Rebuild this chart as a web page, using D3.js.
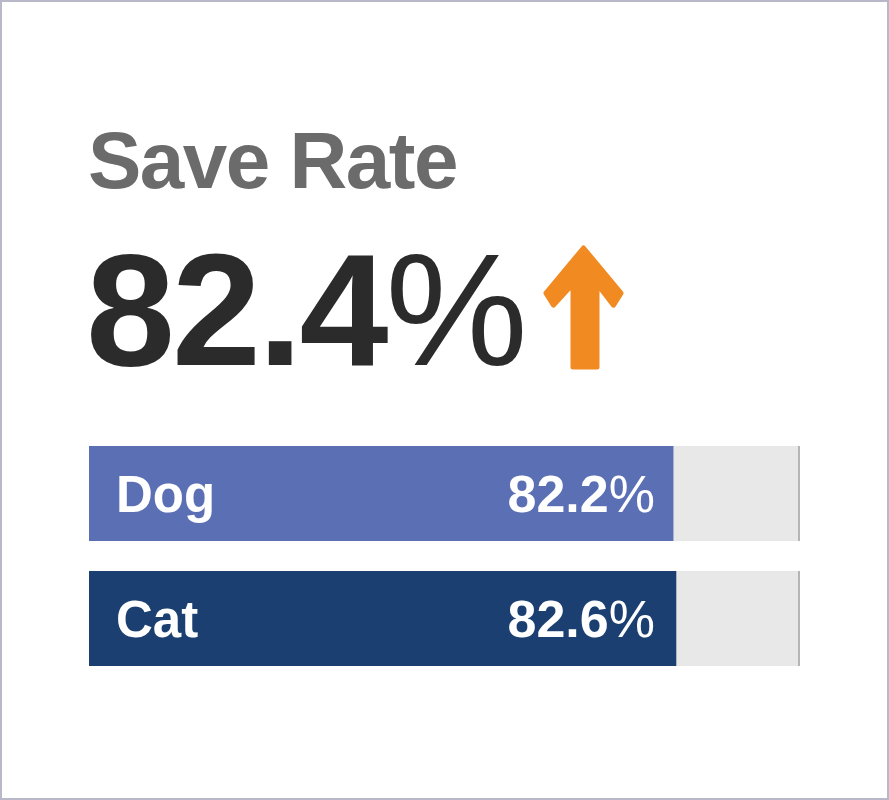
<!DOCTYPE html>
<html><head><meta charset="utf-8">
<script src="https://cdn.jsdelivr.net/npm/d3@7"></script>
<style>body{margin:0;background:#fff}svg{display:block}</style>
</head><body>
<script>
const title = "Save Rate";
const totalValue = 82.4;
const categories = ["Dog", "Cat"];
const values = [82.2, 82.6];
const colors = ["#5b6fb5", "#1a3f70"];

const W = 889, H = 800;
const svg = d3.select("body").append("svg").attr("width", W).attr("height", H)
  .style("font-family", "'Liberation Sans', Arial, sans-serif");
svg.append("rect").attr("x", 1).attr("y", 1).attr("width", W - 2).attr("height", H - 2)
  .attr("fill", "#fff").attr("stroke", "#b9b8c9").attr("stroke-width", 2);

svg.append("text").attr("x", 88).attr("y", 188).attr("font-size", 80).attr("font-weight", "bold")
  .attr("fill", "#6b6b6b").attr("letter-spacing", -1.5).text(title);

const big = svg.append("text").attr("x", 86).attr("y", 365).attr("font-size", 160)
  .attr("fill", "#2b2b2b").attr("letter-spacing", -3);
big.append("tspan").attr("font-weight", "bold").text(totalValue.toFixed(1));
big.append("tspan").text("%");

// arrow
const ax = d3.scaleLinear().domain([0, 1]).range([546, 621]);
const ay = d3.scaleLinear().domain([0, 1]).range([248, 367]);
const pts = [[0.5,0],[1,0.38],[0.9,0.48],[0.68,0.3],[0.68,1],[0.36,1],[0.36,0.3],[0.1,0.48],[0,0.38]];
svg.append("path").attr("d", d3.line().x(d => ax(d[0])).y(d => ay(d[1]))(pts) + "Z")
  .attr("fill", "#f28a22").attr("stroke", "#f28a22").attr("stroke-width", 5).attr("stroke-linejoin", "round");

const x = d3.scaleLinear().domain([0, 100]).range([89, 800]);
const y = d3.scaleBand().domain(categories).range([446, 666]).paddingInner(0.24);

const g = svg.selectAll("g.bar").data(categories).join("g");
g.append("rect").attr("x", x(0)).attr("y", d => y(d)).attr("width", x(100) - x(0))
  .attr("height", y.bandwidth()).attr("fill", "#e8e8e8");
g.append("line").attr("x1", x(100) - 1).attr("x2", x(100) - 1).attr("y1", d => y(d))
  .attr("y2", d => y(d) + y.bandwidth()).attr("stroke", "#b5b5b5").attr("stroke-width", 2);
g.append("rect").attr("x", x(0)).attr("y", d => y(d)).attr("width", (d, i) => x(values[i]) - x(0))
  .attr("height", y.bandwidth()).attr("fill", (d, i) => colors[i]);
g.append("text").attr("x", 116).attr("y", d => y(d) + y.bandwidth() / 2 + 18)
  .attr("font-size", 51).attr("font-weight", "bold").attr("fill", "#fff").text(d => d);
const vt = g.append("text").attr("x", 655).attr("y", d => y(d) + y.bandwidth() / 2 + 18)
  .attr("font-size", 52).attr("text-anchor", "end").attr("fill", "#fff");
vt.append("tspan").attr("font-weight", "bold").text((d, i) => values[i].toFixed(1));
vt.append("tspan").text("%");
</script>
</body></html>
